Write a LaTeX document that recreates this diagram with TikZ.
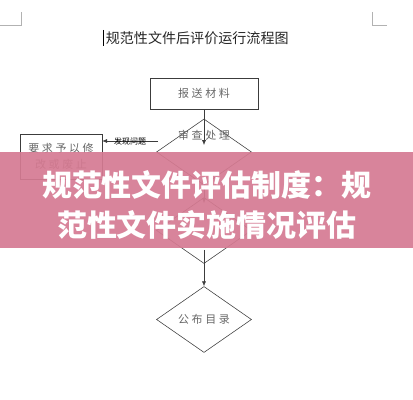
\documentclass[tikz,border=0pt]{standalone}
\usepackage{fontspec}
\usepackage{xcolor}
\usetikzlibrary{positioning,shapes.geometric,arrows.meta}
\newfontfamily\cjk{Noto Sans CJK SC}
\newfontfamily\cjkwide{Noto Sans CJK SC}[LetterSpace=24]
\definecolor{banner}{RGB}{213,122,146}
\definecolor{ink}{RGB}{60,60,60}

\begin{document}
\begin{tikzpicture}[
    box/.style={draw=ink, thin, minimum width=2.7cm, minimum height=0.775cm, font=\cjkwide\fontsize{7.8}{11.4}\selectfont, text=black!60},
    choice/.style={draw=ink, thin, diamond, minimum width=2.375cm, minimum height=1.65cm, inner sep=0pt, font=\cjkwide\fontsize{7.8}{11.4}\selectfont, text=black!60},
    flow/.style={draw=ink, thin, -{Latex[length=1.2mm,width=1mm]}},
    corner/.style={draw=gray!60, thin},
]
\useasboundingbox (0,0) rectangle (10.325,10);

% Page corner marks
\draw[corner] (0, 9.375) -- (0.525, 9.375) -- (0.525, 9.7);
\draw[corner] (9.3, 9.7) -- (9.3, 9.375) -- (9.675, 9.375);

% Title
\draw[black, line width=0.6pt] (2.575, 9.25) -- (2.575, 8.85);
\node[font=\cjk\fontsize{10}{12}\selectfont, text=black!85, anchor=west, inner sep=0pt] (title) at (2.64, 9.05) {规范性文件后评价运行流程图};

% Flow nodes
\node[box] (submit) at (5.1, 7.6625) {报送材料};
\node[choice] (review) at (5.1, 6.2) {};
\node[font=\cjkwide\fontsize{7.8}{11.4}\selectfont, text=black!60] (reviewtext) at (5.1, 6.625) {审查处理};
\node[box, minimum width=2.05cm, minimum height=1.125cm, align=center] (revise) at (1.525, 6.0875) {要求予以修\\改或废止};
\node[choice] (check) at (5.1, 4.2375) {};
\node[choice] (publish) at (5.1, 2.0125) {公布目录};

% Connectors
\coordinate (reviewin) at (5.1, 6.375);
\coordinate (issue) at (3.95, 6.475);
\coordinate (checkin) at (5.1, 4.925);
\coordinate (checkout) at (5.1, 3.75);
\draw[flow] (submit.south) -- (reviewin);
\draw[flow] (issue) -- node[font=\cjk\fontsize{5.7}{7}\selectfont, text=black] {发现问题} (revise.east |- issue);
\draw[flow] (review.south) -- (checkin);
\draw[flow] (checkout) -- (publish.north);

% Banner
\fill[banner, opacity=0.92] (0, 3.8) rectangle (10.325, 6.2);
\node[font=\cjk\bfseries\fontsize{21.3}{28.5}\selectfont, text=white, align=center] (headline) at (5.17, 4.875) {规范性文件评估制度：规\\范性文件实施情况评估};

\end{tikzpicture}
\end{document}
